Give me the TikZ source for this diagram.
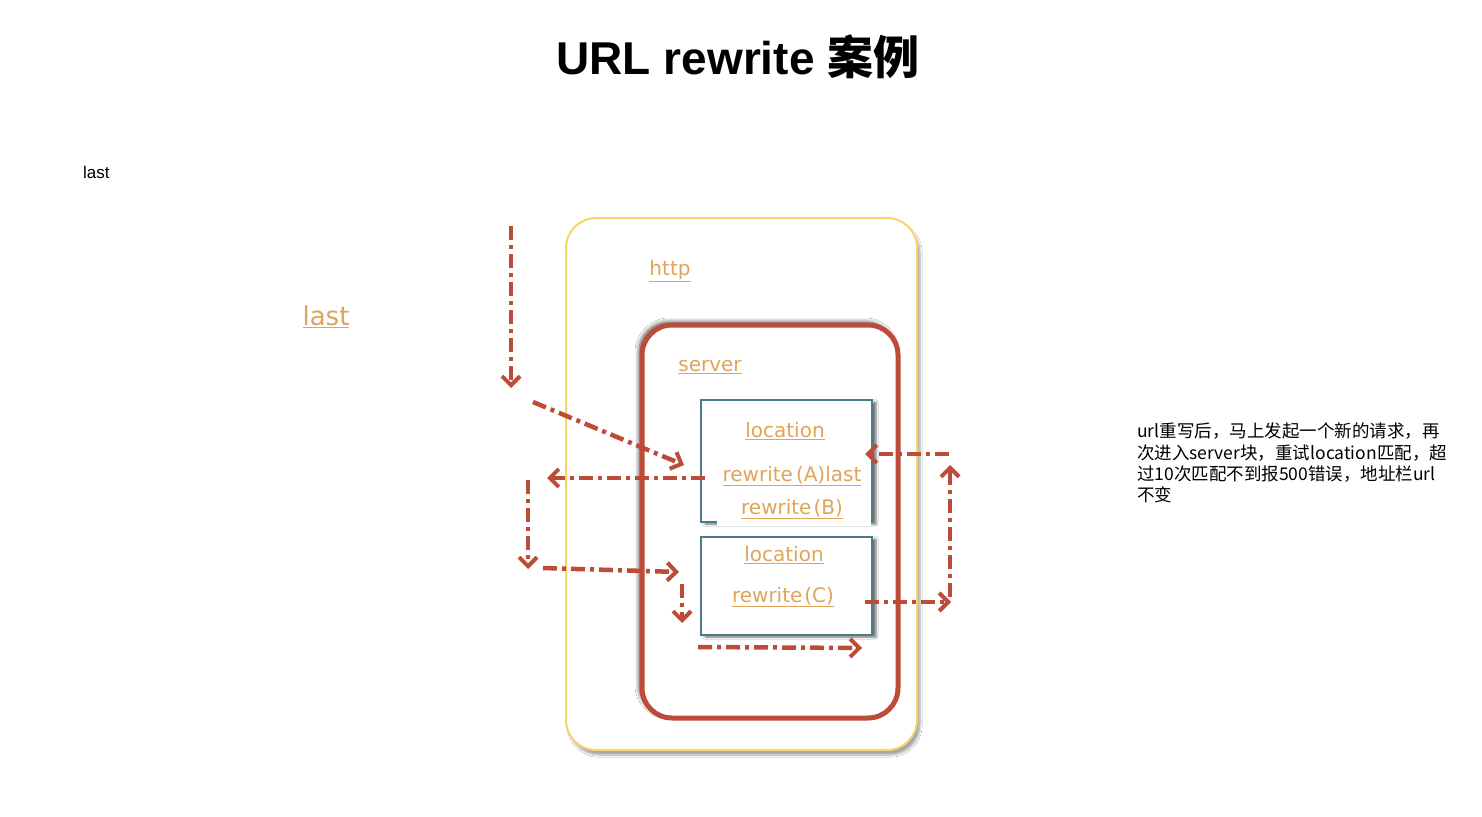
\documentclass[tikz,border=0pt]{standalone}
\usepackage{fontspec}
\setmainfont{DejaVu Sans}
\newfontfamily\cjk{Noto Sans CJK SC}
\newfontfamily\arialfam{Liberation Sans}
\usetikzlibrary{arrows.meta,shadows.blur}
\definecolor{rd}{RGB}{190,75,55}
\definecolor{org}{RGB}{224,164,88}
\definecolor{ylw}{RGB}{250,212,105}
\definecolor{tealb}{RGB}{75,125,135}
\begin{document}
\begin{tikzpicture}[x=1pt,y=-1pt,
  flow/.style={draw=rd, line width=4.5pt, dash pattern=on 14pt off 5pt on 4pt off 5pt,
    -{Straight Barb[length=9pt,width=18pt,line width=4pt]}},
  lbl/.style={text=org, font=\fontsize{20}{24}\selectfont, inner sep=0pt},
  locbox/.style={draw=tealb, line width=1.3pt, fill=white, minimum width=171pt,
    blur shadow={shadow xshift=4pt, shadow yshift=-2pt, shadow opacity=55, shadow blur steps=5}},
]
\useasboundingbox (0,0) rectangle (1482,816);
\fill[white] (0,0) rectangle (1482,816);

% title
\node[font=\fontsize{46}{54}\selectfont, inner sep=0pt] (title) at (738,57)
  {{\arialfam\bfseries URL rewrite }{\cjk\bfseries 案例}};

% left labels
\node[font=\arialfam\fontsize{17}{20}\selectfont, anchor=west, inner sep=0pt] (lastsmall) at (83,172) {last};
\node[lbl, font=\fontsize{26}{30}\selectfont] (lastbig) at (326,317) {\underline{last}};

% http box
\node[draw=ylw, line width=2pt, fill=white, rounded corners=30pt,
      minimum width=351pt, minimum height=532pt,
      blur shadow={shadow xshift=3pt, shadow yshift=-5pt, shadow opacity=35, shadow blur steps=6}]
      (http) at (741.5,484) {};
\node[lbl] (httplbl) at (670,271) {\underline{http}};

% server box
\node[draw=rd, line width=5pt, fill=white, rounded corners=30pt,
      minimum width=256pt, minimum height=393pt,
      blur shadow={shadow xshift=-3pt, shadow yshift=3pt, shadow opacity=70, shadow blur steps=6, shadow blur radius=4pt}]
      (server) at (770,521.5) {};
\node[lbl] (serverlbl) at (710,367) {\underline{server}};

% location boxes
\node[locbox, minimum height=122pt] (loc1) at (786.5,461) {};
\fill[white] (717,497) rectangle (870.5,526);
\node[lbl] (loc1t) at (785,431) {\underline{location}};
\node[lbl] (rwa) at (792,476) {\underline{rewrite\kern3pt(A)last}};
\node[lbl] (rwb) at (792,509) {\underline{rewrite\kern2pt(B)}};

\node[locbox, minimum height=98pt] (loc2) at (786.5,586) {};
\node[lbl] (loc2t) at (784,555) {\underline{location}};
\node[lbl] (rwc) at (783,597) {\underline{rewrite\kern2pt(C)}};

% arrow end points
\coordinate (a1s) at (511,226); \coordinate (a1e) at (511,388);
\coordinate (a2s) at (533,402); \coordinate (a2e) at (684,465);
\coordinate (a3s) at (705,478); \coordinate (a3e) at (547,478);
\coordinate (a4s) at (528,480); \coordinate (a4e) at (528,569);
\coordinate (a5s) at (543,568); \coordinate (a5e) at (679,572);
\coordinate (a6s) at (682,584); \coordinate (a6e) at (682,623);
\coordinate (a7s) at (698,647); \coordinate (a7e) at (862,648);
\coordinate (a8s) at (865,602); \coordinate (a8e) at (951,602);
\coordinate (a9s) at (950,597); \coordinate (a9e) at (950,465);
\coordinate (a10s) at (949,454); \coordinate (a10e) at (865,454);

\draw[flow] (a1s) -- (a1e);
\draw[flow] (a2s) -- (a2e);
\draw[flow] (a3s) -- (a3e);
\draw[flow] (a4s) -- (a4e);
\draw[flow] (a5s) -- (a5e);
\draw[flow] (a6s) -- (a6e);
\draw[flow] (a7s) -- (a7e);
\draw[flow] (a8s) -- (a8e);
\draw[flow] (a9s) -- (a9e);
\draw[flow] (a10s) -- (a10e);

% note
\node[font=\cjk\fontsize{17.5}{21.3}\selectfont, anchor=north west, align=left, inner sep=0pt] (note) at (1137,423)
 {url重写后，马上发起一个新的请求，再\\次进入server块，重试location匹配，超\\过10次匹配不到报500错误，地址栏url\\不变};
\end{tikzpicture}
\end{document}
